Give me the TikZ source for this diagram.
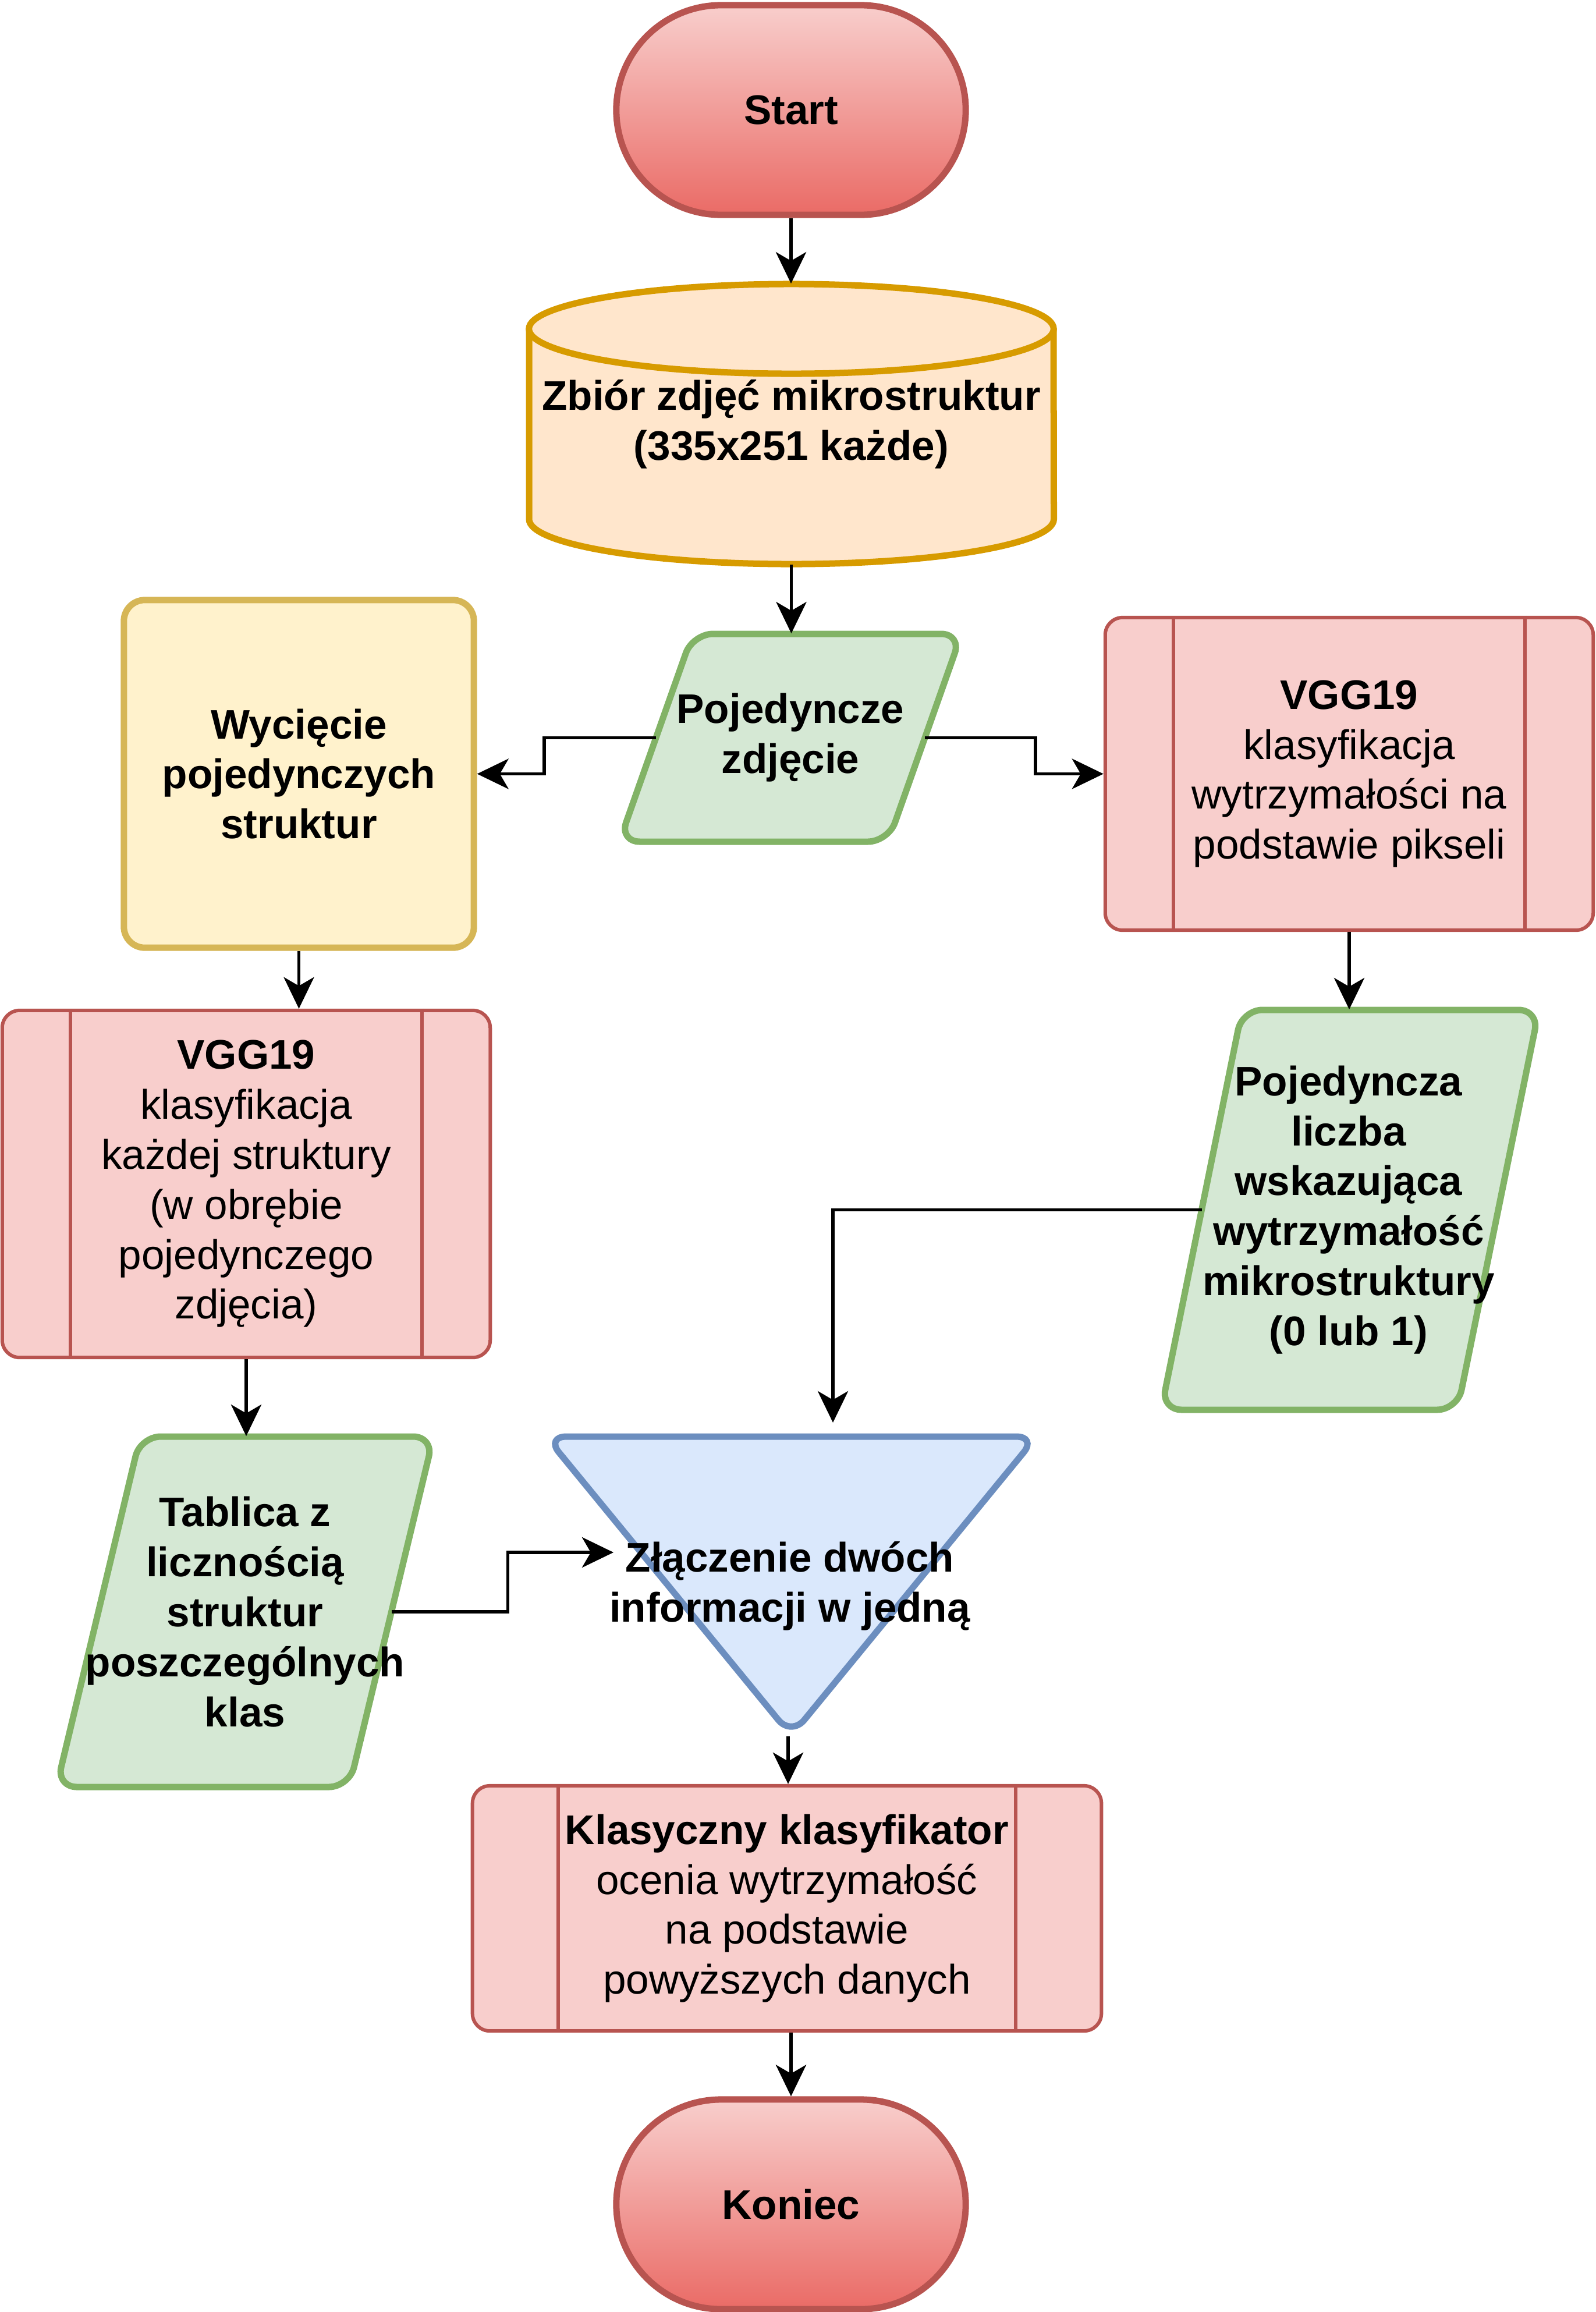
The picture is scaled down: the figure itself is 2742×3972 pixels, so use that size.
\documentclass[tikz,border=0pt]{standalone}
\usepackage{fontspec}
\setmainfont{Liberation Sans}
\usetikzlibrary{arrows.meta,calc}
\definecolor{termtop}{HTML}{F8CECC}
\definecolor{termbot}{HTML}{EA6B66}
\definecolor{redline}{HTML}{B85450}
\definecolor{redfill}{HTML}{F8CECC}
\definecolor{cylfill}{HTML}{FFE6CC}
\definecolor{cylline}{HTML}{D79B00}
\definecolor{grnfill}{HTML}{D5E8D4}
\definecolor{grnline}{HTML}{82B366}
\definecolor{yelfill}{HTML}{FFF2CC}
\definecolor{yelline}{HTML}{D6B656}
\definecolor{blufill}{HTML}{DAE8FC}
\definecolor{bluline}{HTML}{6C8EBF}
\begin{document}
\begin{tikzpicture}[x=0.01cm,y=-0.01cm,
  txt/.style={align=center, inner sep=0pt, font=\fontsize{20.2pt}{24.4pt}\selectfont},
  btxt/.style={txt, font=\fontsize{20.2pt}{24.4pt}\selectfont\bfseries},
  term/.style={btxt, rectangle, rounded corners=1.8cm, minimum width=6cm, minimum height=3.6cm, draw=redline, line width=0.11cm, top color=termtop, bottom color=termbot},
  procbox/.style={txt, rectangle, rounded corners=0.3cm, draw=redline, fill=redfill, line width=0.06cm},
  procsep/.style={draw=redline, line width=0.06cm},
  yelbox/.style={btxt, rectangle, rounded corners=0.36cm, draw=yelline, fill=yelfill, line width=0.11cm},
  para/.style={draw=grnline, fill=grnfill, line width=0.11cm, rounded corners=0.35cm},
  cylshape/.style={draw=cylline, fill=cylfill, line width=0.11cm},
  tri/.style={draw=bluline, fill=blufill, line width=0.11cm, rounded corners=0.35cm},
  hold/.style={btxt, rectangle},
  arr/.style={-{Stealth[length=0.54cm,width=0.52cm,inset=0.15cm]}, line width=0.057cm, black}
]
\useasboundingbox (0,0) rectangle (2742,3972);

% ---- shapes drawn directly (background) ----
% cylinder
\path[cylshape, draw=none] (909,565) -- (909,892) arc[start angle=180,end angle=360,x radius=4.505cm,y radius=0.77cm] -- (1810,565) arc[start angle=0,end angle=180,x radius=4.505cm,y radius=0.77cm] -- cycle;
\draw[cylshape, fill=none] (909,565) -- (909,892) arc[start angle=180,end angle=360,x radius=4.505cm,y radius=0.77cm] -- (1810,565);
\draw[cylshape] (1359.5,565) ellipse[x radius=4.505cm,y radius=0.77cm];
% parallelogram: Pojedyncze zdjecie
\draw[para] (1420,1089) -- (1652,1089) -- (1526,1446) -- (1064,1446) -- (1190,1089) -- cycle;
% parallelogram: Pojedyncza liczba
\draw[para] (2389,1735) -- (2644,1735) -- (2504,2422) -- (1995,2422) -- (2134,1735) -- cycle;
% parallelogram: Tablica
\draw[para] (493,2468) -- (745,2468) -- (600,3070) -- (97,3070) -- (241,2468) -- cycle;
% triangle
\draw[tri] (1359.5,2468) -- (1781,2468) -- (1359.5,2982) -- (938,2468) -- cycle;

% ---- nodes ----
\node[term] (start) at (1359,189) {Start};
\node[hold, minimum width=9.01cm, minimum height=4.81cm] (cyl) at (1359.5,728.5) {Zbiór zdjęć mikrostruktur\\(335x251 każde)};
\node[hold, minimum width=5.88cm, minimum height=3.57cm] (pz) at (1358,1267.5) {Pojedyncze\\zdjęcie};
\node[yelbox, minimum width=6.01cm, minimum height=5.97cm] (wy) at (513.5,1329.5) {Wycięcie\\pojedynczych\\struktur};
\node[procbox, minimum width=8.38cm, minimum height=5.37cm] (vr) at (2318,1329.5) {\textbf{VGG19}\\klasyfikacja\\wytrzymałości na\\podstawie pikseli};
\node[procbox, minimum width=8.38cm, minimum height=5.96cm] (vl) at (423,2034) {\textbf{VGG19}\\klasyfikacja\\każdej struktury\\(w obrębie\\pojedynczego\\zdjęcia)};
\node[hold, minimum width=6.49cm, minimum height=6.87cm] (pl) at (2317,2078.5) {Pojedyncza\\liczba\\wskazująca\\wytrzymałość\\mikrostruktury\\(0 lub 1)};
\node[hold, minimum width=6.48cm, minimum height=6.02cm] (tb) at (421,2769) {Tablica z\\licznością\\struktur\\poszczególnych\\klas};
\node[hold, minimum width=8.43cm, minimum height=5.14cm] (tr) at (1357,2725) {Złączenie dwóch\\informacji w jedną};
\node[procbox, minimum width=10.8cm, minimum height=4.21cm] (kl) at (1352,3278.5) {\textbf{Klasyczny klasyfikator}\\ocenia wytrzymałość\\na podstawie\\powyższych danych};
\node[term] (ko) at (1359,3787) {Koniec};

% inner separator lines of process boxes
\draw[procsep] ([xshift=1.2cm]vr.north west) -- ([xshift=1.2cm]vr.south west);
\draw[procsep] ([xshift=-1.2cm]vr.north east) -- ([xshift=-1.2cm]vr.south east);
\draw[procsep] ([xshift=1.2cm]vl.north west) -- ([xshift=1.2cm]vl.south west);
\draw[procsep] ([xshift=-1.2cm]vl.north east) -- ([xshift=-1.2cm]vl.south east);
\draw[procsep] ([xshift=1.5cm]kl.north west) -- ([xshift=1.5cm]kl.south west);
\draw[procsep] ([xshift=-1.5cm]kl.north east) -- ([xshift=-1.5cm]kl.south east);

% ---- connector end points ----
\coordinate (pzW) at (1127,1267.5);
\coordinate (pzE) at (1589,1267.5);
\coordinate (plW) at (2064.5,2078.5);
\coordinate (tbE) at (672.5,2769);
\coordinate (mergeTop) at (1431,2444);
\coordinate (mergeLeft) at (1054,2667);

% ---- connectors ----
\draw[arr] (start.south) -- (start.south |- cyl.north);
\draw[arr] (cyl.south) -- (cyl.south |- pz.north);
\draw[arr] (pzW) -- ++(-192,0) |- (wy.east);
\draw[arr] (pzE) -- ++(190,0) |- (vr.west);
\draw[arr] (wy.south) -- (wy.south |- vl.north);
\draw[arr] (vl.south) -- (vl.south |- tb.north);
\draw[arr] (vr.south) -- (vr.south |- pl.north);
\draw[arr] (plW) -| (mergeTop);
\draw[arr] (tbE) -- ++(200,0) |- (mergeLeft);
\draw[arr] ($(kl.north |- tr.south)+(2,0)$) -- ($(kl.north)+(2,0)$);
\draw[arr] (ko.north |- kl.south) -- (ko.north);
\end{tikzpicture}
\end{document}
